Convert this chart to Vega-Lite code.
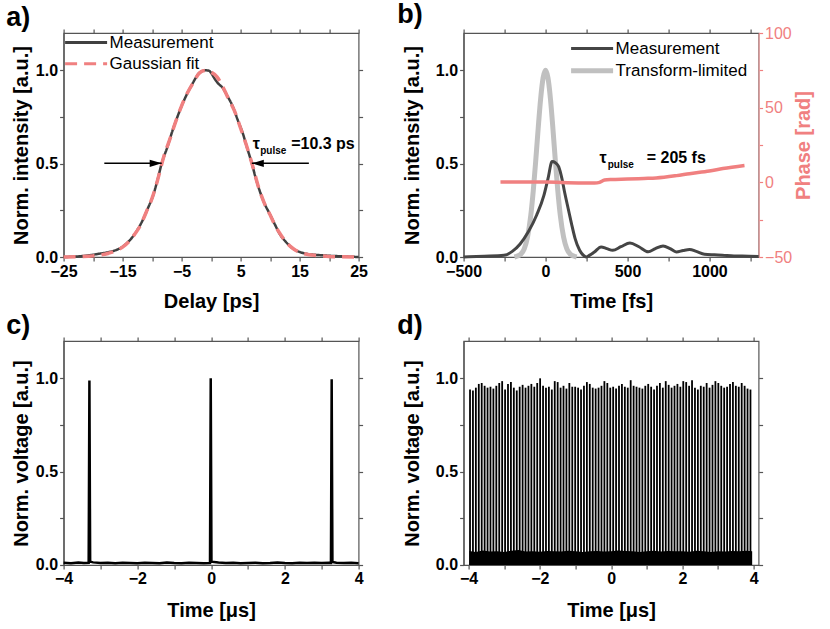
{
  "$schema": "https://vega.github.io/schema/vega-lite/v6.json",
  "padding": {"left": 5.6, "top": 0, "right": 0, "bottom": 0},
  "background": "white",
  "config": {
    "font": "Liberation Sans",
    "view": {"stroke": "#555555", "strokeWidth": 1.2},
    "axis": {"labelFont": "Liberation Sans", "labelFontSize": 16, "labelFontWeight": "bold", "labelColor": "#000000", "titleFont": "Liberation Sans", "titleFontSize": 20, "titleFontWeight": "bold", "titleColor": "#000000", "tickSize": 4, "tickColor": "#555555", "tickWidth": 1.2, "domainColor": "#555555", "domainWidth": 1.2, "grid": false, "labelPadding": 2, "labelFlush": false, "labelOverlap": false},
    "legend": {"orient": "none", "labelFont": "Liberation Sans", "labelFontSize": 17, "labelFontWeight": "normal", "labelColor": "#000000", "symbolType": "M-1,0H5", "symbolSize": 196, "labelOffset": 29, "rowPadding": 3.2, "padding": 0},
    "title": {"font": "Liberation Sans", "fontSize": 27, "fontWeight": "bold", "anchor": "start", "frame": "bounds", "dx": -5, "offset": -4.0, "color": "#000000"}
  },
  "datasets": {
    "a": [
      {"x": -25, "y": 0, "s": "Measurement"}, {"x": -22.3, "y": 0.004, "s": "Measurement"}, {"x": -20.5, "y": 0.01, "s": "Measurement"}, {"x": -18.9, "y": 0.018, "s": "Measurement"}, {"x": -17.25, "y": 0.027, "s": "Measurement"}, {"x": -15.55, "y": 0.045, "s": "Measurement"}, {"x": -14.4, "y": 0.07, "s": "Measurement"}, {"x": -13.3, "y": 0.108, "s": "Measurement"}, {"x": -12.4, "y": 0.15, "s": "Measurement"}, {"x": -11.6, "y": 0.197, "s": "Measurement"}, {"x": -10.8, "y": 0.255, "s": "Measurement"}, {"x": -9.9, "y": 0.323, "s": "Measurement"}, {"x": -9.1, "y": 0.41, "s": "Measurement"}, {"x": -8.37, "y": 0.502, "s": "Measurement"}, {"x": -7.4, "y": 0.59, "s": "Measurement"}, {"x": -6.5, "y": 0.681, "s": "Measurement"}, {"x": -5.6, "y": 0.76, "s": "Measurement"}, {"x": -4.8, "y": 0.824, "s": "Measurement"}, {"x": -3.9, "y": 0.885, "s": "Measurement"}, {"x": -3.1, "y": 0.932, "s": "Measurement"}, {"x": -2.0, "y": 0.986, "s": "Measurement"}, {"x": -1.4, "y": 0.997, "s": "Measurement"}, {"x": -0.85, "y": 1.0, "s": "Measurement"}, {"x": -0.3, "y": 0.997, "s": "Measurement"}, {"x": 0.0, "y": 0.986, "s": "Measurement"}, {"x": 0.6, "y": 0.955, "s": "Measurement"}, {"x": 1.13, "y": 0.932, "s": "Measurement"}, {"x": 1.98, "y": 0.905, "s": "Measurement"}, {"x": 2.8, "y": 0.86, "s": "Measurement"}, {"x": 3.68, "y": 0.806, "s": "Measurement"}, {"x": 4.5, "y": 0.735, "s": "Measurement"}, {"x": 5.37, "y": 0.663, "s": "Measurement"}, {"x": 6.1, "y": 0.585, "s": "Measurement"}, {"x": 6.9, "y": 0.502, "s": "Measurement"}, {"x": 7.5, "y": 0.43, "s": "Measurement"}, {"x": 8.2, "y": 0.358, "s": "Measurement"}, {"x": 9.0, "y": 0.29, "s": "Measurement"}, {"x": 9.9, "y": 0.233, "s": "Measurement"}, {"x": 10.8, "y": 0.175, "s": "Measurement"}, {"x": 11.6, "y": 0.125, "s": "Measurement"}, {"x": 12.7, "y": 0.08, "s": "Measurement"}, {"x": 13.86, "y": 0.045, "s": "Measurement"}, {"x": 15.0, "y": 0.027, "s": "Measurement"}, {"x": 16.1, "y": 0.018, "s": "Measurement"}, {"x": 18.9, "y": 0.009, "s": "Measurement"}, {"x": 21.8, "y": 0.004, "s": "Measurement"}, {"x": 25, "y": 0.0, "s": "Measurement"},
      {"x": -25, "y": 0, "s": "Gaussian fit"}, {"x": -22, "y": 0.002, "s": "Gaussian fit"}, {"x": -20, "y": 0.006, "s": "Gaussian fit"}, {"x": -18, "y": 0.015, "s": "Gaussian fit"}, {"x": -16, "y": 0.035, "s": "Gaussian fit"}, {"x": -15, "y": 0.053, "s": "Gaussian fit"}, {"x": -14, "y": 0.08, "s": "Gaussian fit"}, {"x": -13, "y": 0.12, "s": "Gaussian fit"}, {"x": -12, "y": 0.168, "s": "Gaussian fit"}, {"x": -11, "y": 0.24, "s": "Gaussian fit"}, {"x": -10, "y": 0.315, "s": "Gaussian fit"}, {"x": -9, "y": 0.42, "s": "Gaussian fit"}, {"x": -8, "y": 0.54, "s": "Gaussian fit"}, {"x": -7, "y": 0.63, "s": "Gaussian fit"}, {"x": -6, "y": 0.725, "s": "Gaussian fit"}, {"x": -5, "y": 0.81, "s": "Gaussian fit"}, {"x": -4, "y": 0.88, "s": "Gaussian fit"}, {"x": -3, "y": 0.935, "s": "Gaussian fit"}, {"x": -2, "y": 0.985, "s": "Gaussian fit"}, {"x": -1, "y": 0.999, "s": "Gaussian fit"}, {"x": 0, "y": 0.99, "s": "Gaussian fit"}, {"x": 1, "y": 0.965, "s": "Gaussian fit"}, {"x": 2, "y": 0.91, "s": "Gaussian fit"}, {"x": 3, "y": 0.845, "s": "Gaussian fit"}, {"x": 4, "y": 0.78, "s": "Gaussian fit"}, {"x": 5, "y": 0.69, "s": "Gaussian fit"}, {"x": 6, "y": 0.597, "s": "Gaussian fit"}, {"x": 7, "y": 0.493, "s": "Gaussian fit"}, {"x": 8, "y": 0.378, "s": "Gaussian fit"}, {"x": 9, "y": 0.29, "s": "Gaussian fit"}, {"x": 10, "y": 0.226, "s": "Gaussian fit"}, {"x": 11, "y": 0.16, "s": "Gaussian fit"}, {"x": 12, "y": 0.11, "s": "Gaussian fit"}, {"x": 13, "y": 0.07, "s": "Gaussian fit"}, {"x": 14, "y": 0.043, "s": "Gaussian fit"}, {"x": 15, "y": 0.026, "s": "Gaussian fit"}, {"x": 16, "y": 0.016, "s": "Gaussian fit"}, {"x": 18, "y": 0.008, "s": "Gaussian fit"}, {"x": 20, "y": 0.003, "s": "Gaussian fit"}, {"x": 22, "y": 0.001, "s": "Gaussian fit"}, {"x": 25, "y": 0, "s": "Gaussian fit"}
    ],
    "arrows_a": [
      {"x1": -18.1, "x2": -8.37, "y": 0.502, "dir": "r"},
      {"x1": 16.57, "x2": 6.9, "y": 0.502, "dir": "l"}
    ],
    "ann_a": [{"x": 7.07, "y": 0.579}],
    "ann_b": [{"x": 328.7, "y": 0.502}],
    "b": [
      {"x": -190, "y": 0, "s": "Transform-limited"}, {"x": -175, "y": 0.004, "s": "Transform-limited"}, {"x": -150, "y": 0.016, "s": "Transform-limited"}, {"x": -130, "y": 0.044, "s": "Transform-limited"}, {"x": -110, "y": 0.107, "s": "Transform-limited"}, {"x": -90, "y": 0.224, "s": "Transform-limited"}, {"x": -75, "y": 0.354, "s": "Transform-limited"}, {"x": -60, "y": 0.514, "s": "Transform-limited"}, {"x": -45, "y": 0.688, "s": "Transform-limited"}, {"x": -30, "y": 0.847, "s": "Transform-limited"}, {"x": -15, "y": 0.959, "s": "Transform-limited"}, {"x": 0, "y": 1.0, "s": "Transform-limited"}, {"x": 15, "y": 0.959, "s": "Transform-limited"}, {"x": 30, "y": 0.847, "s": "Transform-limited"}, {"x": 45, "y": 0.688, "s": "Transform-limited"}, {"x": 60, "y": 0.514, "s": "Transform-limited"}, {"x": 75, "y": 0.354, "s": "Transform-limited"}, {"x": 90, "y": 0.224, "s": "Transform-limited"}, {"x": 110, "y": 0.107, "s": "Transform-limited"}, {"x": 130, "y": 0.044, "s": "Transform-limited"}, {"x": 150, "y": 0.016, "s": "Transform-limited"}, {"x": 175, "y": 0.004, "s": "Transform-limited"}, {"x": 190, "y": 0, "s": "Transform-limited"},
      {"x": -500, "y": 0.0, "s": "Measurement"}, {"x": -375, "y": 0.004, "s": "Measurement"}, {"x": -254, "y": 0.009, "s": "Measurement"}, {"x": -203, "y": 0.03, "s": "Measurement"}, {"x": -155, "y": 0.07, "s": "Measurement"}, {"x": -105, "y": 0.135, "s": "Measurement"}, {"x": -54, "y": 0.225, "s": "Measurement"}, {"x": -10, "y": 0.33, "s": "Measurement"}, {"x": 15, "y": 0.42, "s": "Measurement"}, {"x": 40, "y": 0.511, "s": "Measurement"}, {"x": 60, "y": 0.505, "s": "Measurement"}, {"x": 80, "y": 0.484, "s": "Measurement"}, {"x": 100, "y": 0.42, "s": "Measurement"}, {"x": 118, "y": 0.34, "s": "Measurement"}, {"x": 138, "y": 0.26, "s": "Measurement"}, {"x": 158, "y": 0.18, "s": "Measurement"}, {"x": 180, "y": 0.1, "s": "Measurement"}, {"x": 208, "y": 0.036, "s": "Measurement"}, {"x": 230, "y": 0.01, "s": "Measurement"}, {"x": 248, "y": 0.0, "s": "Measurement"}, {"x": 270, "y": 0.01, "s": "Measurement"}, {"x": 298, "y": 0.027, "s": "Measurement"}, {"x": 339, "y": 0.054, "s": "Measurement"}, {"x": 374, "y": 0.045, "s": "Measurement"}, {"x": 410, "y": 0.036, "s": "Measurement"}, {"x": 460, "y": 0.055, "s": "Measurement"}, {"x": 515, "y": 0.075, "s": "Measurement"}, {"x": 570, "y": 0.055, "s": "Measurement"}, {"x": 626, "y": 0.028, "s": "Measurement"}, {"x": 670, "y": 0.045, "s": "Measurement"}, {"x": 717, "y": 0.059, "s": "Measurement"}, {"x": 760, "y": 0.045, "s": "Measurement"}, {"x": 798, "y": 0.027, "s": "Measurement"}, {"x": 840, "y": 0.035, "s": "Measurement"}, {"x": 879, "y": 0.04, "s": "Measurement"}, {"x": 920, "y": 0.03, "s": "Measurement"}, {"x": 970, "y": 0.015, "s": "Measurement"}, {"x": 1030, "y": 0.012, "s": "Measurement"}, {"x": 1080, "y": 0.01, "s": "Measurement"}, {"x": 1150, "y": 0.006, "s": "Measurement"}, {"x": 1200, "y": 0.006, "s": "Measurement"}, {"x": 1300, "y": 0.003, "s": "Measurement"}
    ],
    "bphase": [
      {"x": -275, "p": 0.2}, {"x": -200, "p": 0.3}, {"x": -100, "p": 0.3}, {"x": 0, "p": 0.2}, {"x": 100, "p": -0.1}, {"x": 200, "p": -0.4}, {"x": 300, "p": -0.5}, {"x": 330, "p": 0.0}, {"x": 360, "p": 1.5}, {"x": 400, "p": 1.9}, {"x": 500, "p": 2.2}, {"x": 600, "p": 2.6}, {"x": 675, "p": 2.9}, {"x": 800, "p": 4.5}, {"x": 878, "p": 5.8}, {"x": 1000, "p": 7.6}, {"x": 1082, "p": 9.2}, {"x": 1214, "p": 11.3}
    ],
    "c": [
      {"t": -4.0, "v": 0.012}, {"t": -3.8, "v": 0.01}, {"t": -3.6, "v": 0.013}, {"t": -3.45, "v": 0.011}, {"t": -3.32, "v": 0.012}, {"t": -3.3, "v": 0.988}, {"t": -3.28, "v": 0.018}, {"t": -3.2, "v": 0.014}, {"t": -3.0, "v": 0.011}, {"t": -2.8, "v": 0.012}, {"t": -2.6, "v": 0.01}, {"t": -2.4, "v": 0.012}, {"t": -2.2, "v": 0.011}, {"t": -2.0, "v": 0.009}, {"t": -1.8, "v": 0.012}, {"t": -1.6, "v": 0.011}, {"t": -1.4, "v": 0.01}, {"t": -1.2, "v": 0.013}, {"t": -1.0, "v": 0.011}, {"t": -0.8, "v": 0.01}, {"t": -0.6, "v": 0.012}, {"t": -0.4, "v": 0.011}, {"t": -0.2, "v": 0.01}, {"t": -0.03, "v": 0.011}, {"t": -0.01, "v": 1.0}, {"t": 0.01, "v": 0.018}, {"t": 0.2, "v": 0.013}, {"t": 0.4, "v": 0.011}, {"t": 0.6, "v": 0.012}, {"t": 0.8, "v": 0.01}, {"t": 1.0, "v": 0.011}, {"t": 1.2, "v": 0.012}, {"t": 1.4, "v": 0.01}, {"t": 1.6, "v": 0.011}, {"t": 1.8, "v": 0.013}, {"t": 2.0, "v": 0.011}, {"t": 2.2, "v": 0.01}, {"t": 2.4, "v": 0.012}, {"t": 2.6, "v": 0.011}, {"t": 2.8, "v": 0.012}, {"t": 3.0, "v": 0.011}, {"t": 3.2, "v": 0.012}, {"t": 3.25, "v": 0.011}, {"t": 3.27, "v": 0.995}, {"t": 3.29, "v": 0.016}, {"t": 3.4, "v": 0.012}, {"t": 3.6, "v": 0.011}, {"t": 3.8, "v": 0.012}, {"t": 4.0, "v": 0.01}
    ],
    "dp": [
      {"t": -3.96, "v": 0.94}, {"t": -3.878, "v": 0.935}, {"t": -3.796, "v": 0.95}, {"t": -3.714, "v": 0.97}, {"t": -3.632, "v": 0.975}, {"t": -3.55, "v": 0.96}, {"t": -3.468, "v": 0.95}, {"t": -3.386, "v": 0.955}, {"t": -3.304, "v": 0.945}, {"t": -3.222, "v": 0.96},
      {"t": -3.14, "v": 0.975}, {"t": -3.058, "v": 0.985}, {"t": -2.976, "v": 0.94}, {"t": -2.894, "v": 0.97}, {"t": -2.812, "v": 0.98}, {"t": -2.73, "v": 0.95}, {"t": -2.648, "v": 0.935}, {"t": -2.566, "v": 0.955}, {"t": -2.484, "v": 0.965}, {"t": -2.402, "v": 0.95},
      {"t": -2.32, "v": 0.96}, {"t": -2.238, "v": 0.97}, {"t": -2.156, "v": 0.955}, {"t": -2.074, "v": 0.975}, {"t": -1.992, "v": 1.0}, {"t": -1.91, "v": 0.96}, {"t": -1.828, "v": 0.95}, {"t": -1.746, "v": 0.955}, {"t": -1.664, "v": 0.94}, {"t": -1.582, "v": 0.985},
      {"t": -1.5, "v": 0.98}, {"t": -1.418, "v": 0.95}, {"t": -1.336, "v": 0.96}, {"t": -1.254, "v": 0.945}, {"t": -1.172, "v": 0.975}, {"t": -1.09, "v": 0.955}, {"t": -1.008, "v": 0.955}, {"t": -0.926, "v": 0.95}, {"t": -0.844, "v": 0.94}, {"t": -0.762, "v": 0.96},
      {"t": -0.68, "v": 0.98}, {"t": -0.598, "v": 0.97}, {"t": -0.516, "v": 0.95}, {"t": -0.434, "v": 0.945}, {"t": -0.352, "v": 0.95}, {"t": -0.27, "v": 0.96}, {"t": -0.188, "v": 0.985}, {"t": -0.106, "v": 0.975}, {"t": -0.024, "v": 0.95}, {"t": 0.058, "v": 0.955},
      {"t": 0.14, "v": 0.945}, {"t": 0.222, "v": 0.96}, {"t": 0.304, "v": 0.97}, {"t": 0.386, "v": 0.955}, {"t": 0.468, "v": 0.95}, {"t": 0.55, "v": 0.99}, {"t": 0.632, "v": 0.96}, {"t": 0.714, "v": 0.955}, {"t": 0.796, "v": 0.95}, {"t": 0.878, "v": 0.945},
      {"t": 0.96, "v": 0.96}, {"t": 1.042, "v": 0.97}, {"t": 1.124, "v": 0.955}, {"t": 1.206, "v": 0.94}, {"t": 1.288, "v": 0.96}, {"t": 1.37, "v": 0.975}, {"t": 1.452, "v": 0.95}, {"t": 1.534, "v": 0.985}, {"t": 1.616, "v": 0.965}, {"t": 1.698, "v": 0.95},
      {"t": 1.78, "v": 0.96}, {"t": 1.862, "v": 0.97}, {"t": 1.944, "v": 0.955}, {"t": 2.026, "v": 0.985}, {"t": 2.108, "v": 0.98}, {"t": 2.19, "v": 0.96}, {"t": 2.272, "v": 0.99}, {"t": 2.354, "v": 0.95}, {"t": 2.436, "v": 0.94}, {"t": 2.518, "v": 0.96},
      {"t": 2.6, "v": 0.955}, {"t": 2.682, "v": 0.975}, {"t": 2.764, "v": 0.95}, {"t": 2.846, "v": 0.965}, {"t": 2.928, "v": 0.985}, {"t": 3.01, "v": 0.975}, {"t": 3.092, "v": 0.96}, {"t": 3.174, "v": 0.95}, {"t": 3.256, "v": 0.955}, {"t": 3.338, "v": 0.97},
      {"t": 3.42, "v": 0.98}, {"t": 3.502, "v": 0.96}, {"t": 3.584, "v": 0.955}, {"t": 3.666, "v": 0.975}, {"t": 3.748, "v": 0.96}, {"t": 3.83, "v": 0.945}, {"t": 3.912, "v": 0.94}
    ],
    "dn": [
      {"t": -3.98, "n": 0.075}, {"t": -3.8, "n": 0.07}, {"t": -3.6, "n": 0.078}, {"t": -3.4, "n": 0.072}, {"t": -3.2, "n": 0.074}, {"t": -3.0, "n": 0.07}, {"t": -2.8, "n": 0.076}, {"t": -2.6, "n": 0.08}, {"t": -2.4, "n": 0.072}, {"t": -2.2, "n": 0.074}, {"t": -2.0, "n": 0.071}, {"t": -1.8, "n": 0.075}, {"t": -1.6, "n": 0.073}, {"t": -1.4, "n": 0.072}, {"t": -1.2, "n": 0.076}, {"t": -1.0, "n": 0.074}, {"t": -0.8, "n": 0.07}, {"t": -0.6, "n": 0.073}, {"t": -0.4, "n": 0.075}, {"t": -0.2, "n": 0.072}, {"t": 0.0, "n": 0.074}, {"t": 0.2, "n": 0.078}, {"t": 0.4, "n": 0.075}, {"t": 0.6, "n": 0.073}, {"t": 0.8, "n": 0.07}, {"t": 1.0, "n": 0.074}, {"t": 1.2, "n": 0.076}, {"t": 1.4, "n": 0.072}, {"t": 1.6, "n": 0.075}, {"t": 1.8, "n": 0.073}, {"t": 2.0, "n": 0.074}, {"t": 2.2, "n": 0.071}, {"t": 2.4, "n": 0.076}, {"t": 2.6, "n": 0.073}, {"t": 2.8, "n": 0.07}, {"t": 3.0, "n": 0.074}, {"t": 3.2, "n": 0.072}, {"t": 3.4, "n": 0.075}, {"t": 3.6, "n": 0.073}, {"t": 3.8, "n": 0.076}, {"t": 3.96, "n": 0.074}
    ]
  },
  "columns": 2,
  "spacing": {"row": 84, "column": 105},
  "bounds": "flush",
  "resolve": {"scale": {"color": "independent", "strokeDash": "independent", "shape": "independent"}, "legend": {"color": "independent", "strokeDash": "independent"}},
  "concat": [
    {
      "title": {"text": "a)"},
      "width": 295,
      "height": 224,
      "layer": [
        {
          "data": {"name": "a"},
          "transform": [{"filter": "datum.s == 'Measurement'"}],
          "mark": {"type": "line", "interpolate": "monotone", "strokeWidth": 2.5},
          "encoding": {
            "x": {"field": "x", "type": "quantitative", "scale": {"domain": [-25, 25], "nice": false, "zero": false}, "axis": {"title": "Delay [ps]", "values": [-25, -20, -15, -10, -5, 0, 5, 10, 15, 20, 25], "labelExpr": "datum.value % 10 == 0 ? '' : datum.label", "titlePadding": 12.5}},
            "y": {"field": "y", "type": "quantitative", "scale": {"domain": [0, 1.2], "nice": false}, "axis": {"title": "Norm. intensity [a.u.]", "values": [0, 0.25, 0.5, 0.75, 1], "format": ".1f", "labelExpr": "datum.value == 0.25 || datum.value == 0.75 ? '' : datum.label", "titlePadding": 4}},
            "color": {"field": "s", "type": "nominal", "scale": {"domain": ["Measurement", "Gaussian fit"], "range": ["#404040", "#f08080"]}, "legend": {"title": null, "orient": "none", "legendX": 0, "legendY": 1, "symbolType": "M-1,0H5", "symbolSize": 196, "symbolStrokeWidth": 3}},
            "strokeDash": {"field": "s", "type": "nominal", "scale": {"domain": ["Measurement", "Gaussian fit"], "range": [[1, 0], [12, 7]]}, "legend": {"title": null, "orient": "none", "legendX": 0, "legendY": 1, "symbolType": "M-1,0H5", "symbolSize": 196, "symbolStrokeWidth": 3}}
          }
        },
        {
          "data": {"name": "a"},
          "transform": [{"filter": "datum.s == 'Gaussian fit'"}],
          "mark": {"type": "line", "interpolate": "monotone", "strokeWidth": 3.5},
          "encoding": {
            "x": {"field": "x", "type": "quantitative", "scale": {"domain": [-25, 25], "nice": false, "zero": false}, "axis": null},
            "y": {"field": "y", "type": "quantitative", "scale": {"domain": [0, 1.2], "nice": false}, "axis": null},
            "color": {"field": "s", "type": "nominal", "scale": {"domain": ["Measurement", "Gaussian fit"], "range": ["#404040", "#f08080"]}, "legend": {"title": null, "orient": "none", "legendX": 0, "legendY": 1, "symbolType": "M-1,0H5", "symbolSize": 196, "symbolStrokeWidth": 3}},
            "strokeDash": {"field": "s", "type": "nominal", "scale": {"domain": ["Measurement", "Gaussian fit"], "range": [[1, 0], [12, 7]]}, "legend": {"title": null, "orient": "none", "legendX": 0, "legendY": 1, "symbolType": "M-1,0H5", "symbolSize": 196, "symbolStrokeWidth": 3}}
          }
        },
        {
          "data": {"name": "arrows_a"},
          "mark": {"type": "rule", "color": "#000000", "strokeWidth": 1.5},
          "encoding": {
            "x": {"field": "x1", "type": "quantitative", "scale": {"domain": [-25, 25], "nice": false, "zero": false}, "axis": null},
            "x2": {"field": "x2"},
            "y": {"field": "y", "type": "quantitative", "scale": {"domain": [0, 1.2], "nice": false}, "axis": null}
          }
        },
        {
          "data": {"name": "arrows_a"},
          "mark": {"type": "point", "filled": true, "color": "#000000", "opacity": 1, "size": 144},
          "encoding": {
            "x": {"field": "x2", "type": "quantitative", "scale": {"domain": [-25, 25], "nice": false, "zero": false}, "axis": null},
            "y": {"field": "y", "type": "quantitative", "scale": {"domain": [0, 1.2], "nice": false}, "axis": null},
            "shape": {"field": "dir", "type": "nominal", "scale": {"domain": ["r", "l"], "range": ["M0,0L-2,-0.6L-2,0.6Z", "M0,0L2,-0.6L2,0.6Z"]}, "legend": null}
          }
        },
        {
          "data": {"name": "ann_a"},
          "mark": {"type": "text", "text": "τ", "fontSize": 16, "fontWeight": "bold", "align": "left", "baseline": "alphabetic", "color": "#000000"},
          "encoding": {
            "x": {"field": "x", "type": "quantitative", "scale": {"domain": [-25, 25], "nice": false, "zero": false}, "axis": {"orient": "top", "labels": false, "title": null, "domain": false, "values": [-25, -20, -15, -10, -5, 0, 5, 10, 15, 20, 25]}},
            "y": {"field": "y", "type": "quantitative", "scale": {"domain": [0, 1.2], "nice": false}, "axis": {"orient": "right", "labels": false, "title": null, "domain": false, "values": [0, 0.25, 0.5, 0.75, 1]}}
          }
        },
        {
          "data": {"name": "ann_a"},
          "mark": {"type": "text", "text": "pulse", "fontSize": 10, "fontWeight": "bold", "align": "left", "baseline": "alphabetic", "dx": 7.4, "dy": 5, "color": "#000000"},
          "encoding": {
            "x": {"field": "x", "type": "quantitative", "scale": {"domain": [-25, 25], "nice": false, "zero": false}, "axis": null},
            "y": {"field": "y", "type": "quantitative", "scale": {"domain": [0, 1.2], "nice": false}, "axis": null}
          }
        },
        {
          "data": {"name": "ann_a"},
          "mark": {"type": "text", "text": "=10.3 ps", "fontSize": 16, "fontWeight": "bold", "align": "left", "baseline": "alphabetic", "dx": 38.4, "color": "#000000"},
          "encoding": {
            "x": {"field": "x", "type": "quantitative", "scale": {"domain": [-25, 25], "nice": false, "zero": false}, "axis": null},
            "y": {"field": "y", "type": "quantitative", "scale": {"domain": [0, 1.2], "nice": false}, "axis": null}
          }
        }
      ],
      "resolve": {"axis": {"x": "independent", "y": "independent"}}
    },
    {
      "title": {"text": "b)"},
      "width": 295,
      "height": 224,
      "layer": [
        {
          "data": {"name": "b"},
          "transform": [{"filter": "datum.s == 'Transform-limited'"}],
          "mark": {"type": "line", "interpolate": "monotone", "strokeWidth": 5},
          "encoding": {
            "x": {"field": "x", "type": "quantitative", "scale": {"domain": [-500, 1300], "nice": false, "zero": false}, "axis": {"title": "Time [fs]", "values": [-500, -250, 0, 250, 500, 750, 1000, 1250], "format": "d", "labelExpr": "datum.value % 500 == 0 ? datum.label : ''", "titlePadding": 12.5}},
            "y": {"field": "y", "type": "quantitative", "scale": {"domain": [0, 1.2], "nice": false}, "axis": {"title": "Norm. intensity [a.u.]", "values": [0, 0.25, 0.5, 0.75, 1], "format": ".1f", "labelExpr": "datum.value == 0.25 || datum.value == 0.75 ? '' : datum.label", "titlePadding": 13}},
            "color": {"field": "s", "type": "nominal", "scale": {"domain": ["Measurement", "Transform-limited"], "range": ["#454545", "#c0c0c0"]}, "legend": {"title": null, "orient": "none", "legendX": 106, "legendY": 7, "symbolType": "M-1,0H5", "symbolSize": 196, "symbolStrokeWidth": 3, "encode": {"symbols": {"update": {"strokeWidth": {"signal": "datum.value == 'Transform-limited' ? 5 : 3"}}}}}}
          }
        },
        {
          "data": {"name": "b"},
          "transform": [{"filter": "datum.s == 'Measurement'"}],
          "mark": {"type": "line", "interpolate": "monotone", "strokeWidth": 3},
          "encoding": {
            "x": {"field": "x", "type": "quantitative", "scale": {"domain": [-500, 1300], "nice": false, "zero": false}, "axis": null},
            "y": {"field": "y", "type": "quantitative", "scale": {"domain": [0, 1.2], "nice": false}, "axis": null},
            "color": {"field": "s", "type": "nominal", "scale": {"domain": ["Measurement", "Transform-limited"], "range": ["#454545", "#c0c0c0"]}, "legend": {"title": null, "orient": "none", "legendX": 106, "legendY": 7, "symbolType": "M-1,0H5", "symbolSize": 196, "symbolStrokeWidth": 3, "encode": {"symbols": {"update": {"strokeWidth": {"signal": "datum.value == 'Transform-limited' ? 5 : 3"}}}}}}
          }
        },
        {
          "data": {"name": "bphase"},
          "mark": {"type": "line", "color": "#f08080", "strokeWidth": 3.5, "interpolate": "monotone"},
          "encoding": {
            "x": {"field": "x", "type": "quantitative", "scale": {"domain": [-500, 1300], "nice": false, "zero": false}, "axis": {"orient": "top", "labels": false, "title": null, "domain": false, "values": [-500, -250, 0, 250, 500, 750, 1000, 1250]}},
            "y": {"field": "p", "type": "quantitative", "scale": {"domain": [-50, 100], "nice": false}, "axis": {"orient": "right", "title": "Phase [rad]", "titleAngle": 270, "titleBaseline": "top", "titleColor": "#f08080", "labelColor": "#f08080", "labelFontWeight": "normal", "tickColor": "#f08080", "domainColor": "#f4a0a0", "values": [-50, -25, 0, 25, 50, 75, 100], "labelExpr": "datum.value % 50 == 0 ? datum.label : ''", "titlePadding": 2}}
          }
        },
        {
          "data": {"name": "ann_b"},
          "mark": {"type": "text", "text": "τ", "fontSize": 16, "fontWeight": "bold", "align": "left", "baseline": "alphabetic", "color": "#000000"},
          "encoding": {
            "x": {"field": "x", "type": "quantitative", "scale": {"domain": [-500, 1300], "nice": false, "zero": false}, "axis": null},
            "y": {"field": "y", "type": "quantitative", "scale": {"domain": [0, 1.2], "nice": false}, "axis": null}
          }
        },
        {
          "data": {"name": "ann_b"},
          "mark": {"type": "text", "text": "pulse", "fontSize": 10, "fontWeight": "bold", "align": "left", "baseline": "alphabetic", "dx": 8.3, "dy": 5, "color": "#000000"},
          "encoding": {
            "x": {"field": "x", "type": "quantitative", "scale": {"domain": [-500, 1300], "nice": false, "zero": false}, "axis": null},
            "y": {"field": "y", "type": "quantitative", "scale": {"domain": [0, 1.2], "nice": false}, "axis": null}
          }
        },
        {
          "data": {"name": "ann_b"},
          "mark": {"type": "text", "text": "= 205 fs", "fontSize": 16, "fontWeight": "bold", "align": "left", "baseline": "alphabetic", "dx": 47.3, "color": "#000000"},
          "encoding": {
            "x": {"field": "x", "type": "quantitative", "scale": {"domain": [-500, 1300], "nice": false, "zero": false}, "axis": null},
            "y": {"field": "y", "type": "quantitative", "scale": {"domain": [0, 1.2], "nice": false}, "axis": null}
          }
        }
      ],
      "resolve": {"scale": {"y": "independent"}, "axis": {"x": "independent", "y": "independent"}}
    },
    {
      "title": {"text": "c)"},
      "width": 295,
      "height": 224,
      "layer": [
        {
          "data": {"name": "c"},
          "mark": {"type": "line", "color": "#000000", "strokeWidth": 2.5},
          "encoding": {
            "x": {"field": "t", "type": "quantitative", "scale": {"domain": [-4, 4], "nice": false, "zero": false}, "axis": {"title": "Time [μs]", "values": [-4, -3, -2, -1, 0, 1, 2, 3, 4], "labelExpr": "datum.value % 2 == 0 ? datum.label : ''", "titlePadding": 14}},
            "y": {"field": "v", "type": "quantitative", "scale": {"domain": [0, 1.2], "nice": false}, "axis": {"title": "Norm. voltage [a.u.]", "values": [0, 0.25, 0.5, 0.75, 1], "format": ".1f", "labelExpr": "datum.value == 0.25 || datum.value == 0.75 ? '' : datum.label", "titlePadding": 4}}
          }
        },
        {
          "data": {"name": "c"},
          "mark": {"type": "point", "opacity": 0},
          "encoding": {
            "x": {"field": "t", "type": "quantitative", "scale": {"domain": [-4, 4], "nice": false, "zero": false}, "axis": {"orient": "top", "labels": false, "title": null, "domain": false, "values": [-4, -3, -2, -1, 0, 1, 2, 3, 4]}},
            "y": {"field": "v", "type": "quantitative", "scale": {"domain": [0, 1.2], "nice": false}, "axis": {"orient": "right", "labels": false, "title": null, "domain": false, "values": [0, 0.25, 0.5, 0.75, 1]}}
          }
        }
      ],
      "resolve": {"axis": {"x": "independent", "y": "independent"}}
    },
    {
      "title": {"text": "d)"},
      "width": 295,
      "height": 224,
      "layer": [
        {
          "data": {"name": "dp"},
          "mark": {"type": "bar", "color": "#000000", "size": 1.8},
          "encoding": {
            "x": {"field": "t", "type": "quantitative", "scale": {"domain": [-4, 4], "nice": false, "zero": false}, "axis": {"title": "Time [μs]", "values": [-4, -3, -2, -1, 0, 1, 2, 3, 4], "labelExpr": "datum.value % 2 == 0 ? datum.label : ''", "titlePadding": 14}},
            "y": {"field": "v", "type": "quantitative", "scale": {"domain": [0, 1.2], "nice": false}, "axis": {"title": "Norm. voltage [a.u.]", "values": [0, 0.25, 0.5, 0.75, 1], "format": ".1f", "labelExpr": "datum.value == 0.25 || datum.value == 0.75 ? '' : datum.label", "titlePadding": 13}}
          }
        },
        {
          "data": {"name": "dn"},
          "mark": {"type": "area", "color": "#000000", "opacity": 1},
          "encoding": {
            "x": {"field": "t", "type": "quantitative", "scale": {"domain": [-4, 4], "nice": false, "zero": false}, "axis": {"orient": "top", "labels": false, "title": null, "domain": false, "values": [-4, -3, -2, -1, 0, 1, 2, 3, 4]}},
            "y": {"field": "n", "type": "quantitative", "stack": null, "scale": {"domain": [0, 1.2], "nice": false}, "axis": {"orient": "right", "labels": false, "title": null, "domain": false, "values": [0, 0.25, 0.5, 0.75, 1]}}
          }
        }
      ],
      "resolve": {"axis": {"x": "independent", "y": "independent"}}
    }
  ]
}
